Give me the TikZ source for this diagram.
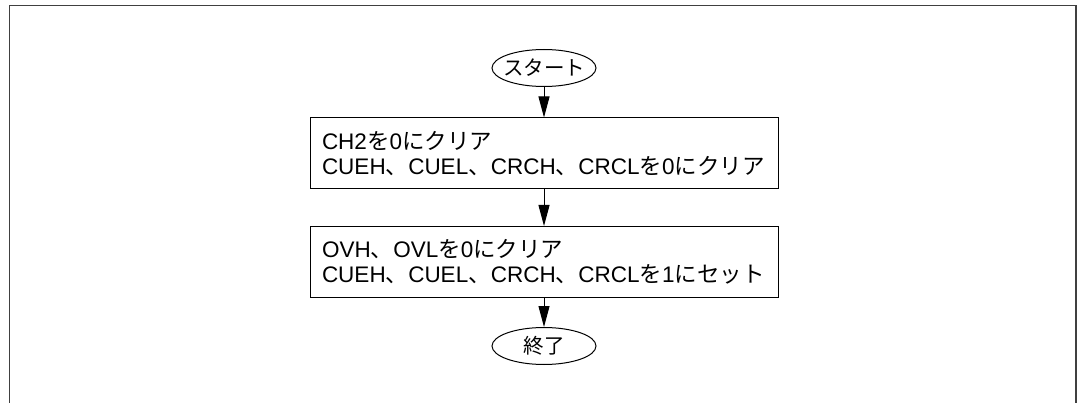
\documentclass[tikz,border=0pt]{standalone}
\usepackage{fontspec}
\setmainfont{Liberation Sans}
\newfontfamily\jpfont{Noto Sans CJK JP}
\newcommand{\jp}[1]{{\jpfont #1}}
\usetikzlibrary{shapes.geometric}
\usetikzlibrary{arrows.meta}

\begin{document}
\begin{tikzpicture}[x=1pt, y=-1pt, font=\fontsize{22.5}{25}\selectfont,
	term/.style={draw, ellipse, minimum width=104pt, minimum height=37pt, inner xsep=-10pt, inner ysep=0pt, line width=1pt, font=\fontsize{20.5}{24}\selectfont},
	proc/.style={draw, rectangle, minimum height=71pt, text width=444pt, inner sep=12pt, align=left, line width=1pt},
	flow/.style={-{Triangle[length=21pt,width=11pt]}, line width=1pt}]
		\useasboundingbox (0,0) rectangle (1078,403);
		\draw[line width=1.5pt, black!75] (9.5,403) -- (9.5,5.7) -- (1076,5.7) -- (1076,403);
		\node[term] (start) at (544,68) {\jp{スタート}};
		\node[proc] (clear) at (544,153.5) {CH2\jp{を}0\jp{にクリア}\\CUEH\jp{、}CUEL\jp{、}CRCH\jp{、}CRCL\jp{を}0\jp{にクリア}};
		\node[proc] (setflags) at (544,262) {OVH\jp{、}OVL\jp{を}0\jp{にクリア}\\CUEH\jp{、}CUEL\jp{、}CRCH\jp{、}CRCL\jp{を}1\jp{にセット}};
		\node[term] (stop) at (544,346) {\jp{終了}};
		\draw[flow] (start) -- (clear);
		\draw[flow] (clear) -- (setflags);
		\draw[flow] (setflags) -- (stop);
	\end{tikzpicture}
\end{document}
